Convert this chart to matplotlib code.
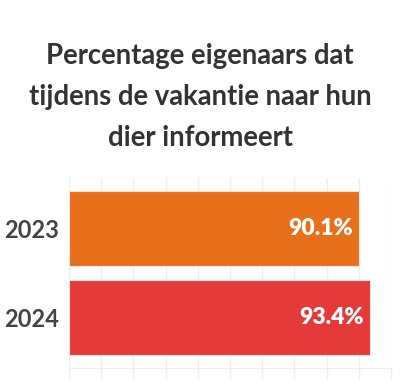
import matplotlib.pyplot as plt

# data
years = ["2023", "2024"]
values = [90.1, 93.4]
colors = ["#E8701A", "#E53A3A"]
title = "Percentage eigenaars dat\ntijdens de vakantie naar hun\ndier informeert"

plt.rcParams['font.family'] = ['Lato', 'DejaVu Sans']

fig = plt.figure(figsize=(4.0, 3.87), dpi=100)
ax = fig.add_axes([69/400, 1 - 368/387, 322/400, (368 - 178)/387])

ypos = list(range(len(years)))
ax.barh(ypos, values, height=0.84, color=colors, edgecolor="#fbe3dc", linewidth=0.8, zorder=3)
ax.set_xlim(0, 100)
ax.set_ylim(1.56, -0.56)

for y, v in zip(ypos, values):
    ax.text(v - 2.0, y, f"{v:.1f}%", ha="right", va="center", color="white",
            fontsize=16.5, fontweight="heavy", zorder=4)

ax.set_yticks(ypos)
ax.set_yticklabels(years, fontsize=17, color="#444444", fontweight="bold")
ax.tick_params(axis="y", length=0, pad=7)
ax.set_xticks(range(0, 101, 10))
ax.set_xticklabels([])
ax.tick_params(axis="x", length=8, color="#eeeeee", width=1)
ax.grid(axis="x", color="#eeeeee", linewidth=1, zorder=0)
for s in ["top", "right", "left"]:
    ax.spines[s].set_visible(False)
ax.spines["bottom"].set_color("#eeeeee")

fig.text(0.5, 1 - 97/387, title, ha="center", va="center", fontsize=19.8,
         fontweight="bold", color="#333333", linespacing=1.7)

fig.savefig("out.png", dpi=100, facecolor="white")
